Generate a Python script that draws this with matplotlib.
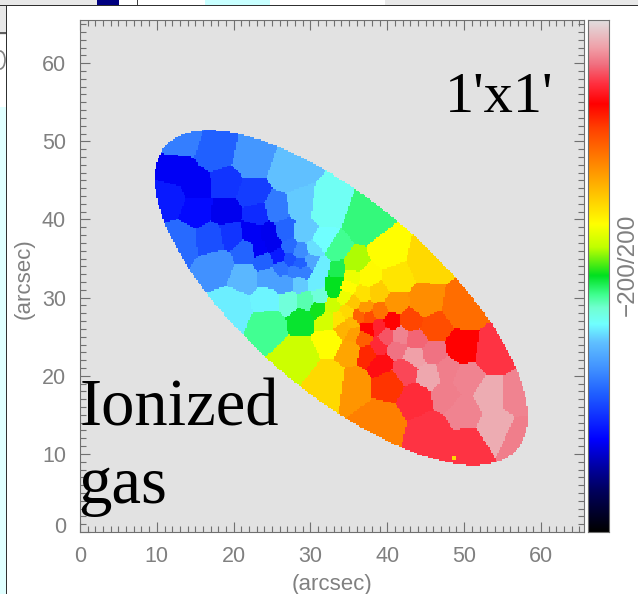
import numpy as np
import matplotlib.pyplot as plt
from matplotlib.colors import LinearSegmentedColormap
from matplotlib.patches import Arc, Rectangle
from matplotlib.ticker import MultipleLocator
from matplotlib.transforms import ScaledTranslation

# voronoi bins: centre x, centre y (arcsec), velocity (km/s)
bin_x = [13.0, 17.6, 22.4, 27.1, 31.9, 12.6, 11.7, 18.9, 15.2, 22.4, 15.2, 19.1, 23.0, 13.2, 17.1, 19.7,
         22.4, 25.6, 24.5, 26.7, 25.0, 23.4, 21.7, 18.0, 24.1, 25.8, 27.3, 28.6, 27.3, 28.6, 26.3, 28.0,
         29.1, 30.2, 21.6, 24.7, 26.7, 28.6, 29.1, 30.6, 31.5, 28.6, 30.6, 20.0, 24.5, 27.3, 29.5, 31.2,
         24.7, 28.9, 31.0, 33.2, 33.4, 33.3, 37.1, 33.2, 35.6, 39.9, 45.1, 37.5, 41.0, 36.9, 38.6, 44.7,
         41.0, 49.7, 35.6, 37.1, 38.9, 34.9, 36.2, 37.5, 43.0, 46.0, 40.6, 38.8, 37.5, 34.3, 35.4, 35.6,
         36.9, 32.6, 39.9, 41.6, 43.6, 38.8, 35.2, 37.5, 41.2, 49.5, 53.8, 46.0, 43.4, 39.1, 42.3, 45.6,
         47.7, 50.1, 40.2, 53.4, 56.9, 43.8, 47.7, 49.9, 54.3, 57.1, 35.8, 32.6, 39.3, 45.6, 50.3, 28.6,
         31.5, 32.2, 33.6, 34.4, 35.4, 32.8, 34.8]
bin_y = [50.0, 48.5, 47.5, 45.8, 41.3, 46.4, 42.6, 44.5, 44.3, 43.2, 41.1, 40.9, 40.6, 37.4, 37.6, 38.1,
         38.3, 41.3, 38.1, 38.5, 36.8, 36.4, 36.0, 34.2, 34.7, 35.3, 36.4, 35.9, 34.9, 34.4, 33.8, 33.4,
         33.2, 34.7, 32.7, 32.7, 31.9, 41.7, 38.3, 36.2, 34.0, 31.9, 32.1, 28.9, 29.7, 29.5, 29.5, 30.0,
         26.8, 27.4, 28.7, 35.9, 33.6, 31.9, 39.4, 30.8, 34.2, 35.7, 34.4, 32.5, 32.3, 30.4, 30.6, 29.3,
         29.1, 28.5, 29.3, 28.7, 28.2, 28.2, 27.6, 27.5, 27.0, 26.1, 27.0, 26.3, 26.1, 26.1, 26.8, 25.5,
         24.8, 24.6, 25.0, 25.1, 24.6, 23.8, 23.3, 22.9, 23.5, 23.5, 22.9, 22.9, 22.5, 21.6, 20.8, 20.1,
         20.6, 19.5, 19.1, 17.4, 17.4, 17.1, 17.6, 15.6, 13.5, 12.2, 19.1, 19.5, 14.4, 13.1, 10.9, 22.8,
         37.0, 27.2, 27.2, 30.2, 32.7, 29.0, 31.4]
bin_v = [-80, -92, -70, -52, -35, -130, -118, -108, -130, -105, -125, -132, -112, -88, -98, -108,
         -130, -82, -132, -90, -132, -130, -90, -72, -92, -118, -88, -75, -98, -92, -85, -80,
         -80, -64, -56, -66, -66, -50, -50, -45, -42, -50, -42, -42, -40, -28, -20, -28,
         -15, -2, 2, -15, -7, 0, -12, 0, 20, 40, 55, 42, 50, 52, 60, 85,
         82, 97, 62, 80, 95, 55, 102, 110, 113, 110, 134, 145, 134, 70, 68, 78,
         103, 40, 158, 170, 162, 147, 75, 122, 165, 134, 150, 165, 178, 138, 155, 180,
         168, 170, 118, 182, 170, 148, 168, 170, 182, 168, 82, 55, 90, 150, 150, 25,
         -38, 28, 50, 35, 35, 25, 40]

# single bad pixel near the bottom edge
spot_x = [48.7]
spot_y = [9.5]
spot_v = [55]

# galaxy outline
ell_x0, ell_y0 = 34.0, 30.0
ell_a, ell_b = 30.0, 12.2
ell_pa = 40.0

vel_max = 200
cmap_v = [-200, -167, -150, -128, -92, -73, -52, -38, -25, -15, 0, 22, 40, 65, 90, 115, 134, 150, 165, 178, 200]
cmap_c = ["#000000", "#000060", "#0000a0", "#0000ff", "#2060ff", "#4090ff", "#60c0ff", "#70ffff", "#70ffd0",
          "#40ff90", "#00e020", "#c0ff00", "#ffff00", "#ffc000", "#ff8000", "#ff4000", "#ff0000", "#ff3040",
          "#f07080", "#f0a0a8", "#e0e0e0"]
stops = [(v + vel_max) / (2 * vel_max) for v in cmap_v]
vel_cmap = LinearSegmentedColormap.from_list("vel", list(zip(stops, cmap_c)), N=512)

W, H = 638, 594
grey = "#808080"
plt.rcParams["font.family"] = ["Liberation Sans", "DejaVu Sans"]
fig = plt.figure(figsize=(W / 100, H / 100), dpi=100, facecolor="white")


def box(x0, y0, x1, y1, color):
    fig.add_artist(Rectangle((x0 / W, 1 - y1 / H), (x1 - x0) / W, (y1 - y0) / H, transform=fig.transFigure,
                             facecolor=color, edgecolor="none"))


# bits of the slide behind the plot
box(0, 0, 97, 5, "#e8e8e8")
box(0, 5, 6, 35, "#e8e8e8")
box(0, 32, 6, 34, "#606060")
box(97, 0, 119, 5, "#000080")
box(205, 0, 270, 5, "#c8ffff")
box(385, 0, W, 5, "#e8e8e8")
box(137, 0, 138, 5, "#404040")
box(0, 107, 6, H, "#e0ffff")
box(0, 5, W, 6, "#303030")
box(6, 5, 7, H, "#303030")
fig.add_artist(Arc((0 / W, 1 - 60 / H), 10 / W, 18 / H, theta1=-90, theta2=90, transform=fig.transFigure,
                   color=grey, linewidth=1.2))

ax = fig.add_axes([80 / W, 1 - 532 / H, 504 / W, 512.5 / H])
ax.set_facecolor("#e2e2e2")

grid = np.arange(0, 65.6, 0.2)
gx, gy = np.meshgrid(grid, grid)
cx, cy = np.array(bin_x), np.array(bin_y)
nearest = np.argmin((gx[..., None] - cx) ** 2 + (gy[..., None] - cy) ** 2, axis=-1)
vmap = np.array(bin_v, dtype=float)[nearest]
t = np.radians(ell_pa)
du = (gx - ell_x0) * np.cos(t) - (gy - ell_y0) * np.sin(t)
dv = (gx - ell_x0) * np.sin(t) + (gy - ell_y0) * np.cos(t)
vmap = np.ma.masked_where((du / ell_a) ** 2 + (dv / ell_b) ** 2 > 1, vmap)
ax.pcolormesh(gx, gy, vmap, cmap=vel_cmap, vmin=-vel_max, vmax=vel_max, shading="nearest")
ax.scatter(spot_x, spot_y, c=spot_v, s=9, marker="s", cmap=vel_cmap, vmin=-vel_max, vmax=vel_max, linewidths=0)

ax.set_xlim(0, 65.6)
ax.set_ylim(0, 65.6)
ax.xaxis.set_major_locator(MultipleLocator(10))
ax.yaxis.set_major_locator(MultipleLocator(10))
ax.xaxis.set_minor_locator(MultipleLocator(1))
ax.yaxis.set_minor_locator(MultipleLocator(1))
ax.tick_params(which="major", direction="in", top=True, right=True, length=7.5, width=0.8, color="#707070",
               labelcolor=grey, labelsize=15.5, pad=10)
ax.tick_params(which="minor", direction="in", top=True, right=True, length=4, width=0.8, color="#707070")
for s in ax.spines.values():
    s.set_color("#707070")
ax.set_xlabel("(arcsec)", color=grey, fontsize=16, labelpad=5)
ax.set_ylabel("(arcsec)", color=grey, fontsize=16, labelpad=5, y=0.494)

# the 0 on the y axis sits a bit above its tick
fig.canvas.draw()
zero = [l for l in ax.get_yticklabels() if l.get_position()[1] == 0][0]
zero.set_transform(zero.get_transform() + ScaledTranslation(0, 7 / 100, fig.dpi_scale_trans))

cax = fig.add_axes([588 / W, 1 - 532 / H, 21 / W, 512.5 / H])
bar = np.linspace(-vel_max, vel_max, 512)[:, None]
cax.imshow(bar, origin="lower", aspect="auto", cmap=vel_cmap, vmin=-vel_max, vmax=vel_max)
cax.set_xticks([])
cax.set_yticks([])
for s in cax.spines.values():
    s.set_color("#707070")

fig.text(628 / W, 1 - 265 / H, "\u2212200/200", color=grey, fontsize=17.5, rotation=90, ha="center", va="center")
fig.text(445 / W, 1 - 112 / H, "1'x1'", family="Liberation Serif", color="black", fontsize=42)
fig.text(80 / W, 1 - 425 / H, "Ionized", family="Liberation Serif", color="black", fontsize=48)
fig.text(78 / W, 1 - 503 / H, "gas", family="Liberation Serif", color="black", fontsize=48)

fig.savefig("out.png", dpi=100)
